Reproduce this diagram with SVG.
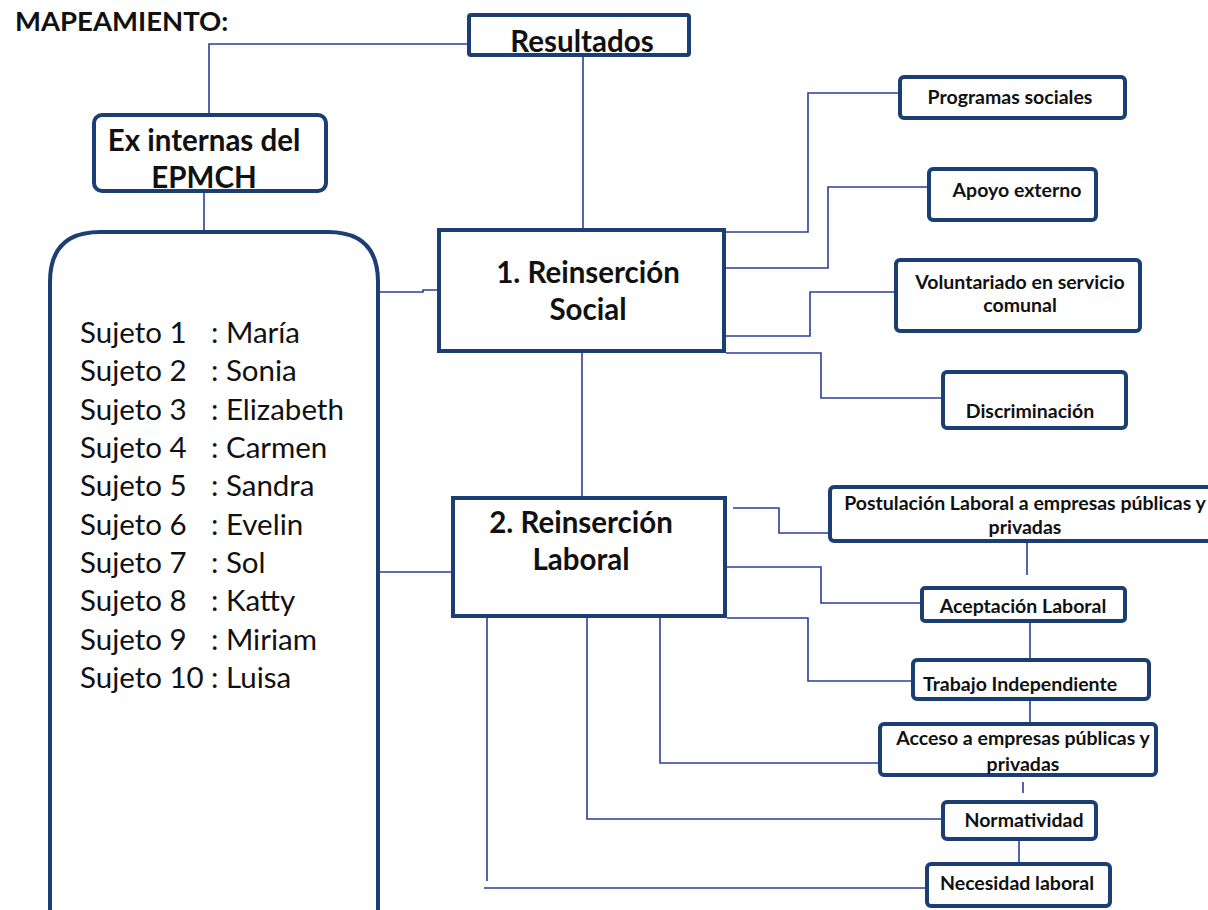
<svg xmlns="http://www.w3.org/2000/svg" width="1208" height="910" viewBox="0 0 1208 910">
<style>
.box{fill:#fff;stroke:#1b3f73;stroke-width:4}
.con{fill:none;stroke:#2b3c9e;stroke-width:1.6}
.t{font-family:Lato,"Open Sans","Liberation Sans",sans-serif;fill:#111;text-anchor:middle}
.b{font-weight:bold}
.big{font-size:29.5px}
.sm{font-size:19.5px}
.suj{font-family:Lato,"Open Sans","Liberation Sans",sans-serif;fill:#111;font-size:29.5px}
</style>
<rect width="1208" height="910" fill="#fff"/>
<text class="t b" x="15" y="31" style="text-anchor:start;font-size:27.5px">MAPEAMIENTO:</text>

<g id="connectors">
<path class="con" d="M467 44 H209 V113"/>
<path class="con" d="M583 57 V228"/>
<path class="con" d="M204 193 V230"/>
<path class="con" d="M378 292 H423 V290 H437"/>
<path class="con" d="M378 572 H451"/>
<path class="con" d="M582 353 V496"/>
<path class="con" d="M726 232 H808 V93 H898"/>
<path class="con" d="M726 268 H828 V187 H927"/>
<path class="con" d="M726 336 H810 V292 H894"/>
<path class="con" d="M726 353 H821 V398 H941"/>
<path class="con" d="M733 508 H779 V533 H828"/>
<path class="con" d="M1027 543 V575"/>
<path class="con" d="M727 567 H821 V603 H920"/>
<path class="con" d="M1030 623 V658"/>
<path class="con" d="M727 618 H808 V681 H911"/>
<path class="con" d="M1030 701 V722"/>
<path class="con" d="M660 618 V763 H878"/>
<path class="con" d="M1023 782 V793"/>
<path class="con" d="M587 618 V819 H941"/>
<path class="con" d="M1019 841 V862"/>
<path class="con" d="M487 618 V881"/>
<path class="con" d="M484 888 H925"/>
</g>

<g id="resultados">
<rect class="box" x="469" y="15" width="220" height="40" rx="2"/>
<text class="t b big" x="582" y="52">Resultados</text>
</g>

<g id="ex-internas">
<rect class="box" x="94" y="115" width="232" height="76" rx="8"/>
<text class="t b big" x="204" y="151">Ex internas del</text>
<text class="t b big" x="204" y="188">EPMCH</text>
</g>

<g id="sujetos">
<path class="box" d="M50 920 V282 Q50 232 100 232 H328 Q378 232 378 282 V920"/>
<g class="suj">
<text x="80" y="343">Sujeto 1</text><text x="211" y="343">: María</text>
<text x="80" y="381">Sujeto 2</text><text x="211" y="381">: Sonia</text>
<text x="80" y="420">Sujeto 3</text><text x="211" y="420">: Elizabeth</text>
<text x="80" y="458">Sujeto 4</text><text x="211" y="458">: Carmen</text>
<text x="80" y="496">Sujeto 5</text><text x="211" y="496">: Sandra</text>
<text x="80" y="535">Sujeto 6</text><text x="211" y="535">: Evelin</text>
<text x="80" y="573">Sujeto 7</text><text x="211" y="573">: Sol</text>
<text x="80" y="611">Sujeto 8</text><text x="211" y="611">: Katty</text>
<text x="80" y="650">Sujeto 9</text><text x="211" y="650">: Miriam</text>
<text x="80" y="688">Sujeto 10</text><text x="211" y="688">: Luisa</text>
</g>
</g>

<g id="reinsercion-social">
<rect class="box" x="439" y="230" width="285" height="121"/>
<text class="t b big" x="588" y="283">1. Reinserción</text>
<text class="t b big" x="588" y="320">Social</text>
</g>

<g id="reinsercion-laboral">
<rect class="box" x="453" y="498" width="272" height="118"/>
<text class="t b big" x="581" y="533">2. Reinserción</text>
<text class="t b big" x="581" y="570">Laboral</text>
</g>

<g id="programas-sociales">
<rect class="box" x="900" y="77" width="225" height="41" rx="4"/>
<text class="t b sm" x="1010" y="104">Programas sociales</text>
</g>
<g id="apoyo-externo">
<rect class="box" x="929" y="169" width="167" height="51" rx="4"/>
<text class="t b sm" x="1017" y="197">Apoyo externo</text>
</g>
<g id="voluntariado">
<rect class="box" x="896" y="260" width="244" height="71" rx="4"/>
<text class="t b sm" x="1020" y="289">Voluntariado en servicio</text>
<text class="t b sm" x="1020" y="312">comunal</text>
</g>
<g id="discriminacion">
<rect class="box" x="943" y="372" width="183" height="56" rx="4"/>
<text class="t b sm" x="1030" y="418">Discriminación</text>
</g>
<g id="postulacion">
<rect class="box" x="830" y="487" width="384" height="54" rx="4"/>
<text class="t b sm" x="1025" y="510">Postulación Laboral a empresas públicas y</text>
<text class="t b sm" x="1025" y="534">privadas</text>
</g>
<g id="aceptacion">
<rect class="box" x="922" y="588" width="203" height="33" rx="3"/>
<text class="t b sm" x="1023" y="613">Aceptación Laboral</text>
</g>
<g id="trabajo">
<rect class="box" x="913" y="660" width="236" height="39" rx="4"/>
<text class="t b sm" x="1020" y="691">Trabajo Independiente</text>
</g>
<g id="acceso">
<rect class="box" x="880" y="724" width="276" height="51" rx="4"/>
<text class="t b sm" x="1023" y="745">Acceso a empresas públicas y</text>
<text class="t b sm" x="1023" y="771">privadas</text>
</g>
<g id="normatividad">
<rect class="box" x="943" y="802" width="153" height="37" rx="4"/>
<text class="t b sm" x="1024" y="827">Normatividad</text>
</g>
<g id="necesidad">
<rect class="box" x="927" y="864" width="183" height="42" rx="4"/>
<text class="t b sm" x="1017" y="890">Necesidad laboral</text>
</g>
</svg>
